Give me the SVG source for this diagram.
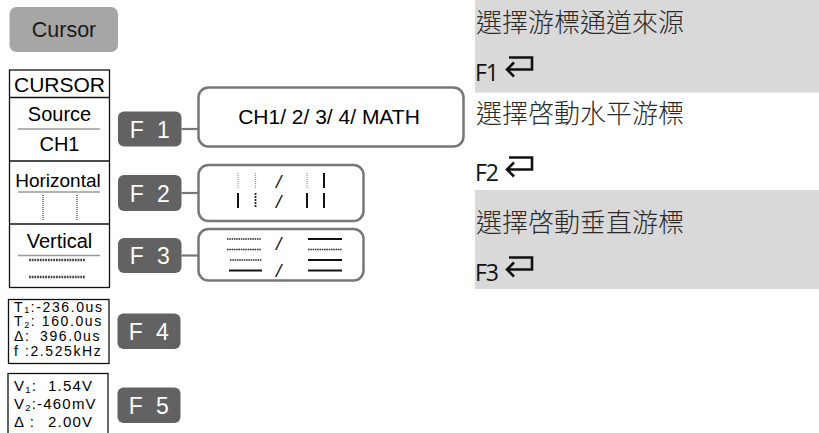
<svg xmlns="http://www.w3.org/2000/svg" width="819" height="433" viewBox="0 0 819 433">
<style>
.sans{font-family:"Liberation Sans",Arial,sans-serif}
.fbtn{fill:#626262}
.ftxt{font-family:"Liberation Sans",Arial,sans-serif;font-size:23px;fill:#fff;letter-spacing:3.5px}
.opt{fill:#fff;stroke:#777;stroke-width:2.5}
.conn{stroke:#777;stroke-width:2.2}
.blk{stroke:#111;stroke-width:1.3;fill:none}
.gl{stroke:#999;stroke-width:1.6}
.solid{stroke:#111;stroke-width:2}
.ltdot{stroke:#999;stroke-width:1.2;stroke-dasharray:1 1}
.dkdash{stroke:#222;stroke-width:1.6;stroke-dasharray:1.5 0.8}
.cjk{font-family:"Noto Sans CJK TC","Noto Sans CJK SC",sans-serif;font-size:26px;font-weight:300;fill:#2a2a2a}
.fk{font-family:"Open Sans","Noto Sans",sans-serif;font-size:23px;fill:#111;letter-spacing:-1px}
.ret{fill:none;stroke:#111;stroke-width:2.6}
.slash{font-family:"Liberation Sans",Arial,sans-serif;font-size:19px;font-style:italic;fill:#111}
</style>
<g id="cursor-button">
<rect x="9.5" y="7" width="108.5" height="45" rx="7" fill="#a6a6a6"/>
<text class="sans" x="64" y="37" font-size="21.5" text-anchor="middle" fill="#1a1a1a">Cursor</text>
</g>
<g id="cursor-menu">
<rect class="blk" x="9.5" y="70" width="100" height="217.5"/>
<line class="blk" x1="9.5" y1="97.5" x2="109.5" y2="97.5"/>
<line class="blk" x1="9.5" y1="161" x2="109.5" y2="161"/>
<line class="blk" x1="9.5" y1="224" x2="109.5" y2="224"/>
<text class="sans" x="59.5" y="91.5" font-size="21" text-anchor="middle">CURSOR</text>
<text class="sans" x="59.5" y="121" font-size="20" text-anchor="middle">Source</text>
<line class="gl" x1="18" y1="129" x2="100" y2="129"/>
<text class="sans" x="59.5" y="151" font-size="20" text-anchor="middle">CH1</text>
<text class="sans" x="58" y="187" font-size="19" text-anchor="middle">Horizontal</text>
<line class="gl" x1="18" y1="192" x2="100" y2="192"/>
<line x1="43" y1="195" x2="43" y2="220" stroke="#777" stroke-width="1.8" stroke-dasharray="1 1"/>
<line x1="77" y1="195" x2="77" y2="220" stroke="#777" stroke-width="1.8" stroke-dasharray="1 1"/>
<text class="sans" x="59.5" y="248" font-size="20" text-anchor="middle">Vertical</text>
<line class="gl" x1="18" y1="255.5" x2="100" y2="255.5"/>
<line x1="29" y1="260" x2="85" y2="260" stroke="#444" stroke-width="2.6" stroke-dasharray="1.8 0.9"/>
<line x1="29" y1="277" x2="85" y2="277" stroke="#444" stroke-width="2.6" stroke-dasharray="1.8 0.9"/>
</g>
<g id="time-readout">
<rect class="blk" x="8.5" y="299.5" width="100.5" height="64"/>
<text class="sans" font-size="14" letter-spacing="1.6" xml:space="preserve"><tspan x="14" y="311.5">T<tspan font-size="9" dy="1.5">1</tspan><tspan dy="-1.5">:-236.0us</tspan></tspan><tspan x="14" y="326">T<tspan font-size="9" dy="1.5">2</tspan><tspan dy="-1.5">: 160.0us</tspan></tspan><tspan x="14" y="341">Δ:</tspan><tspan x="40" y="341">396.0us</tspan><tspan x="14" y="355.5">f :2.525kHz</tspan></text>
</g>
<g id="volt-readout">
<rect class="blk" x="8" y="373.5" width="100" height="70"/>
<text class="sans" font-size="15" letter-spacing="1.2" xml:space="preserve"><tspan x="14" y="391">V<tspan font-size="9.5" dy="2">1</tspan><tspan dy="-2">:</tspan></tspan><tspan x="48" y="391">1.54V</tspan><tspan x="14" y="409">V<tspan font-size="9.5" dy="2">2</tspan><tspan dy="-2">:-460mV</tspan></tspan><tspan x="14" y="427">Δ :</tspan><tspan x="48" y="427">2.00V</tspan></text>
</g>
<g id="F1">
<rect class="fbtn" x="118" y="111.5" width="63.5" height="35" rx="6"/>
<text class="ftxt" x="151.5" y="137.5" text-anchor="middle">F 1</text>
</g>
<g id="F2">
<rect class="fbtn" x="118" y="175" width="63.5" height="36" rx="6"/>
<text class="ftxt" x="151.5" y="201.5" text-anchor="middle">F 2</text>
</g>
<g id="F3">
<rect class="fbtn" x="118" y="238" width="63.5" height="35" rx="6"/>
<text class="ftxt" x="151.5" y="264" text-anchor="middle">F 3</text>
</g>
<g id="F4">
<rect class="fbtn" x="117.5" y="313.5" width="63" height="35.5" rx="6"/>
<text class="ftxt" x="150.5" y="339.5" text-anchor="middle">F 4</text>
</g>
<g id="F5">
<rect class="fbtn" x="117.5" y="387.5" width="63" height="35.5" rx="6"/>
<text class="ftxt" x="150.5" y="413.5" text-anchor="middle">F 5</text>
</g>
<g id="connectors">
<line class="conn" x1="181.5" y1="129" x2="199" y2="129"/>
<line class="conn" x1="181.5" y1="193" x2="199" y2="193"/>
<line class="conn" x1="181.5" y1="255.5" x2="199" y2="255.5"/>
</g>
<g id="source-options">
<rect class="opt" x="198.5" y="87.5" width="265" height="59" rx="10"/>
<text class="sans" x="329" y="124" font-size="21" text-anchor="middle">CH1/ 2/ 3/ 4/ MATH</text>
</g>
<g id="horizontal-options">
<rect class="opt" x="198.5" y="165" width="165" height="56" rx="10"/>
<line class="ltdot" x1="238" y1="173" x2="238" y2="188"/>
<line class="ltdot" x1="255.5" y1="173" x2="255.5" y2="188"/>
<text class="slash" x="276" y="188">/</text>
<line class="ltdot" x1="307" y1="173" x2="307" y2="188"/>
<line class="solid" x1="324" y1="173" x2="324" y2="188"/>
<line class="solid" x1="238" y1="193" x2="238" y2="208"/>
<line x1="255.5" y1="193" x2="255.5" y2="208" stroke="#222" stroke-width="1.8" stroke-dasharray="2 1"/>
<text class="slash" x="276" y="208">/</text>
<line class="solid" x1="307" y1="193" x2="307" y2="208"/>
<line class="solid" x1="324" y1="193" x2="324" y2="208"/>
</g>
<g id="vertical-options">
<rect class="opt" x="198.5" y="229" width="165" height="51.5" rx="10"/>
<line class="dkdash" x1="227" y1="239" x2="261" y2="239"/>
<line class="dkdash" x1="227" y1="249.5" x2="261" y2="249.5"/>
<line class="dkdash" x1="230" y1="260" x2="262" y2="260"/>
<line class="solid" x1="229" y1="270.5" x2="262" y2="270.5"/>
<text class="slash" x="276" y="250">/</text>
<text class="slash" x="276" y="277">/</text>
<line class="solid" x1="308" y1="239" x2="342" y2="239"/>
<line class="dkdash" x1="308" y1="249.5" x2="342" y2="249.5"/>
<line class="solid" x1="308" y1="260" x2="342" y2="260"/>
<line class="solid" x1="308" y1="270.5" x2="342" y2="270.5"/>
</g>
<g id="notes">
<rect x="475" y="0" width="344" height="92.5" fill="#d9d9d9"/>
<rect x="475" y="190" width="344" height="99" fill="#d9d9d9"/>
<text class="cjk" x="476" y="32">選擇游標通道來源</text>
<text class="fk" x="475" y="81">F1</text>
<path class="ret" d="M509 57.5 H532 V69.5 H507 M514 62.5 L507 69.5 L514 76.5"/>
<text class="cjk" x="476" y="123">選擇啓動水平游標</text>
<text class="fk" x="475" y="181">F2</text>
<path class="ret" d="M509 157.5 H532 V169.5 H507 M514 162.5 L507 169.5 L514 176.5"/>
<text class="cjk" x="476" y="232">選擇啓動垂直游標</text>
<text class="fk" x="475" y="281">F3</text>
<path class="ret" d="M509 257.5 H532 V269.5 H507 M514 262.5 L507 269.5 L514 276.5"/>
</g>
</svg>
